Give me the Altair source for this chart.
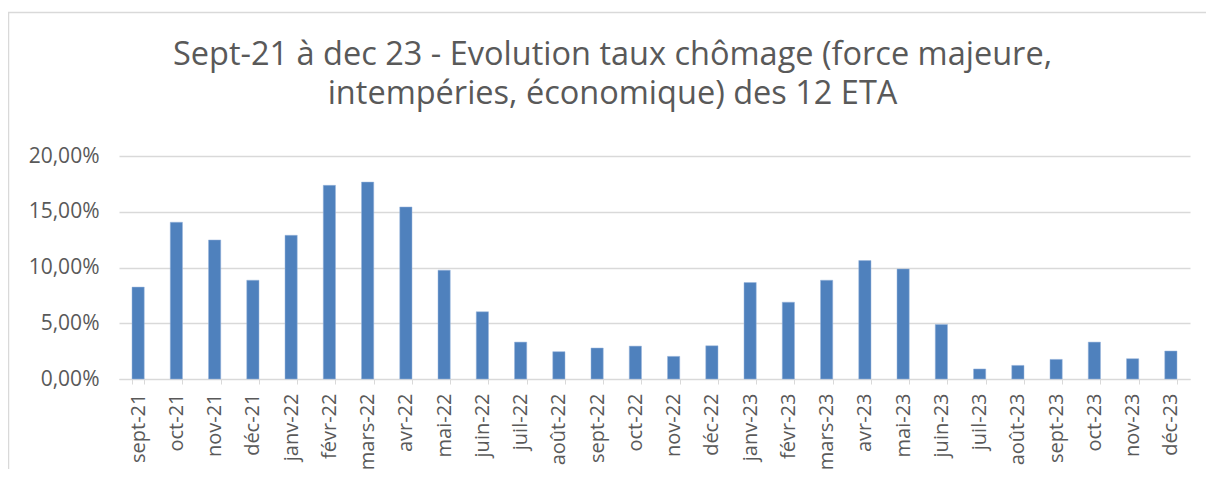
import altair as alt
import pandas as pd

months = ["sept-21", "oct-21", "nov-21", "déc-21", "janv-22", "févr-22", "mars-22", "avr-22",
          "mai-22", "juin-22", "juil-22", "août-22", "sept-22", "oct-22", "nov-22", "déc-22",
          "janv-23", "févr-23", "mars-23", "avr-23", "mai-23", "juin-23", "juil-23", "août-23",
          "sept-23", "oct-23", "nov-23", "déc-23"]
taux = [8.24, 14.06, 12.47, 8.86, 12.89, 17.37, 17.66, 15.43,
        9.76, 6.03, 3.31, 2.45, 2.78, 2.95, 2.03, 2.98,
        8.65, 6.89, 8.86, 10.62, 9.87, 4.89, 0.90, 1.22,
        1.76, 3.31, 1.82, 2.51]
y_ticks = [0, 5, 10, 15, 20]

df = pd.DataFrame({"mois": months, "taux": taux})

W, H = 1071, 223
FONT = "Open Sans"
GREY = "#595959"

bars = alt.Chart(df).mark_bar(color="#4f81bd", stroke="#9bb7dc", strokeWidth=0.5).encode(
    x=alt.X("mois:N", sort=months,
            scale=alt.Scale(paddingInner=0.68, paddingOuter=0.34),
            axis=alt.Axis(title=None, labelAngle=-90, labelAlign="right", labelBaseline="middle",
                          labelFont=FONT, labelFontSize=20, labelColor=GREY, labelPadding=9,
                          tickBand="extent", tickColor="#d9d9d9", tickSize=5, tickWidth=1,
                          domainColor="#d9d9d9", domainWidth=1, grid=False)),
    y=alt.Y("taux:Q", scale=alt.Scale(domain=[0, 20], nice=False),
            axis=alt.Axis(title=None, values=y_ticks, domain=False, ticks=False,
                          labelFont=FONT, labelFontSize=21, labelColor=GREY, labelPadding=20,
                          labelExpr="replace(format(datum.value, '.2f'), '.', ',') + '%'",
                          gridColor="#d9d9d9", gridWidth=1.5)),
)

frame = alt.Chart(pd.DataFrame({"k": [0]})).mark_rect(fill=None, stroke="#d9d9d9", strokeWidth=1.5).encode(
    x=alt.value(-110.5), x2=alt.value(1200), y=alt.value(-143.5), y2=alt.value(500)
)

chart = alt.layer(frame, bars).properties(
    width=W, height=H,
    title=alt.Title(
        ["Sept-21 à dec 23 - Evolution taux chômage (force majeure,",
         "intempéries, économique) des 12 ETA"],
        font=FONT, fontSize=32.5, fontWeight="normal", color=GREY, lineHeight=39,
        anchor="middle", dx=-42, offset=-132, baseline="bottom"),
    autosize=alt.AutoSizeParams(type="none"),
    padding={"left": 111, "top": 148, "right": 16, "bottom": 90},
).configure_view(stroke=None)

chart.save("out.html", embed_options={"renderer": "svg", "actions": False})
